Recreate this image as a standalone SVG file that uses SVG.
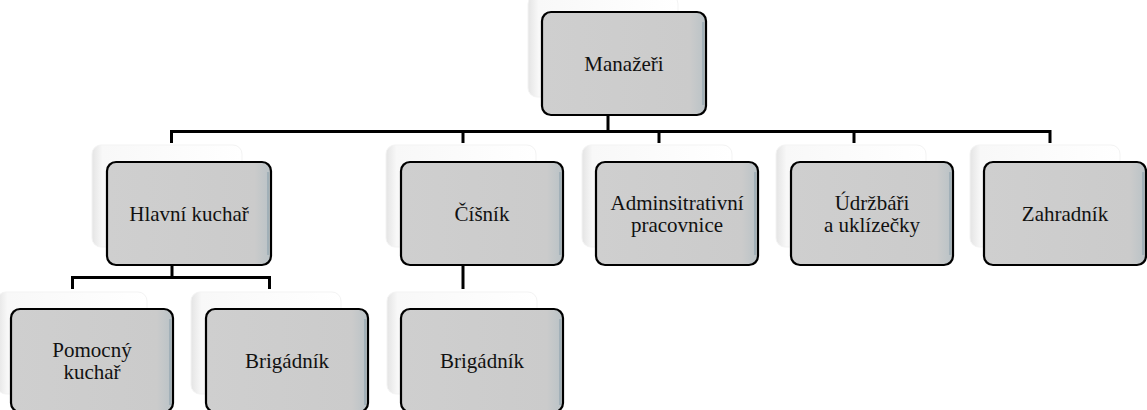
<svg xmlns="http://www.w3.org/2000/svg" width="1147" height="410" viewBox="0 0 1147 410">
<defs>
<linearGradient id="ghost" x1="0" y1="0" x2="1" y2="0">
<stop offset="0" stop-color="#e4e4e4"/>
<stop offset="0.07" stop-color="#f8f8f8"/>
<stop offset="1" stop-color="#ffffff"/>
</linearGradient>
<linearGradient id="face" x1="0" y1="0" x2="1" y2="0">
<stop offset="0" stop-color="#cfcfcf"/>
<stop offset="0.9" stop-color="#cbcbcb"/>
<stop offset="1" stop-color="#b9c2c6"/>
</linearGradient>
</defs>
<style>
.ghost{fill:url(#ghost);stroke:#f3f3f3;stroke-width:1}
.box{fill:url(#face);stroke:#000;stroke-width:2.2}
.hl{fill:none;stroke:#8fa3ad;stroke-width:1.2}
.lbl{font-size:21px;fill:#111;text-anchor:middle}
.con{stroke:#000;stroke-width:3;fill:none}
</style>
<rect width="1147" height="410" fill="#fff"/>

<g id="connectors">
<path class="con" d="M608,115 V131.5"/>
<path class="con" d="M171.5,143 V131.5 H1050 V143"/>
<path class="con" d="M463,131.5 V143"/>
<path class="con" d="M659,131.5 V143"/>
<path class="con" d="M854,131.5 V143"/>
<path class="con" d="M172,265 V277.5"/>
<path class="con" d="M72.5,289 V277.5 H269.5 V289"/>
<path class="con" d="M463,266 V289"/>
</g>

<g font-family="'Liberation Serif', 'DejaVu Serif', 'Times New Roman', serif">
<g id="manazeri">
<rect class="ghost" x="528" y="-5" width="150" height="102" rx="9"/>
<rect class="box" x="542" y="12" width="164" height="103" rx="9"/>
<path class="hl" d="M703,22 V105"/>
<text class="lbl" x="624" y="71">Manažeři</text>
</g>

<g id="hlavni-kuchar">
<rect class="ghost" x="92" y="145" width="150" height="102" rx="9"/>
<rect class="box" x="107" y="162" width="164" height="103" rx="9"/>
<path class="hl" d="M268,172 V255"/>
<text class="lbl" x="189" y="221">Hlavní kuchař</text>
</g>

<g id="cisnik">
<rect class="ghost" x="386" y="145" width="150" height="102" rx="9"/>
<rect class="box" x="401" y="162" width="162" height="103" rx="9"/>
<path class="hl" d="M560,172 V255"/>
<text class="lbl" x="482" y="221">Číšník</text>
</g>

<g id="administrativni">
<rect class="ghost" x="582" y="145" width="150" height="102" rx="9"/>
<rect class="box" x="596" y="162" width="162" height="103" rx="9"/>
<path class="hl" d="M755,172 V255"/>
<text class="lbl" x="677" y="210">Adminsitrativní</text>
<text class="lbl" x="677" y="232">pracovnice</text>
</g>

<g id="udrzbari">
<rect class="ghost" x="776" y="145" width="150" height="102" rx="9"/>
<rect class="box" x="791" y="162" width="162" height="103" rx="9"/>
<path class="hl" d="M950,172 V255"/>
<text class="lbl" x="872" y="210">Údržbáři</text>
<text class="lbl" x="872" y="232">a uklízečky</text>
</g>

<g id="zahradnik">
<rect class="ghost" x="970" y="145" width="150" height="102" rx="9"/>
<rect class="box" x="984" y="162" width="162" height="103" rx="9"/>
<path class="hl" d="M1143,172 V255"/>
<text class="lbl" x="1065" y="221">Zahradník</text>
</g>

<g id="pomocny-kuchar">
<rect class="ghost" x="-3" y="292" width="150" height="102" rx="9"/>
<rect class="box" x="11" y="309" width="162" height="103" rx="9"/>
<path class="hl" d="M170,319 V405"/>
<text class="lbl" x="92" y="357">Pomocný</text>
<text class="lbl" x="92" y="379">kuchař</text>
</g>

<g id="brigadnik-1">
<rect class="ghost" x="191" y="292" width="150" height="102" rx="9"/>
<rect class="box" x="206" y="309" width="162" height="103" rx="9"/>
<path class="hl" d="M365,319 V405"/>
<text class="lbl" x="287" y="368">Brigádník</text>
</g>

<g id="brigadnik-2">
<rect class="ghost" x="387" y="292" width="150" height="102" rx="9"/>
<rect class="box" x="401" y="309" width="162" height="103" rx="9"/>
<path class="hl" d="M560,319 V405"/>
<text class="lbl" x="482" y="368">Brigádník</text>
</g>
</g>
</svg>
